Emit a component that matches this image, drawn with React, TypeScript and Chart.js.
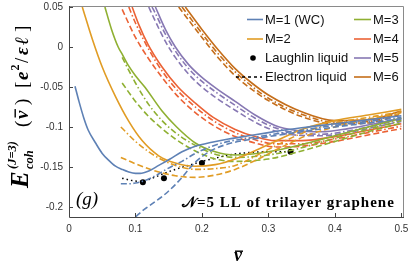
import React, { useEffect, useRef } from "react";
import { Chart, registerables } from "chart.js";
Chart.register(...registerables);

const X_TICKS = [0, 0.1, 0.2, 0.3, 0.4, 0.5];
const Y_TICKS = [-0.2, -0.15, -0.1, -0.05, 0, 0.05];

// M=1 (WC)
const NU_M1_SOLID = [0.009, 0.015, 0.022, 0.029, 0.04, 0.05, 0.059, 0.07, 0.08, 0.089, 0.1, 0.107, 0.12, 0.135, 0.152, 0.17, 0.19, 0.215, 0.24, 0.27, 0.3, 0.35, 0.4, 0.45, 0.5];
const E_M1_SOLID = [-0.049, -0.068, -0.088, -0.104, -0.12, -0.133, -0.141, -0.149, -0.153, -0.156, -0.158, -0.158, -0.155, -0.148, -0.14, -0.131, -0.124, -0.119, -0.115, -0.111, -0.107, -0.101, -0.096, -0.091, -0.086];
const NU_M1_DASHDOT = [0.078, 0.09, 0.1, 0.11, 0.12, 0.13, 0.14, 0.155, 0.17, 0.19, 0.215, 0.24, 0.27, 0.3, 0.35, 0.4, 0.45, 0.5];
const E_M1_DASHDOT = [-0.171, -0.171, -0.17, -0.168, -0.165, -0.161, -0.156, -0.149, -0.143, -0.133, -0.124, -0.118, -0.114, -0.11, -0.104, -0.098, -0.093, -0.088];
const NU_M1_DASHED = [0.09, 0.1, 0.11, 0.12, 0.13, 0.14, 0.15, 0.16, 0.17, 0.18, 0.19, 0.2, 0.215, 0.24, 0.27, 0.3, 0.35, 0.4, 0.45, 0.5];
const E_M1_DASHED = [-0.219, -0.2125, -0.205, -0.199, -0.193, -0.187, -0.18, -0.172, -0.163, -0.153, -0.144, -0.137, -0.129, -0.121, -0.116, -0.112, -0.106, -0.1, -0.095, -0.09];

// M=2
const NU_M2_SOLID = [0.02, 0.035, 0.05, 0.07, 0.09, 0.11, 0.135, 0.16, 0.19, 0.22, 0.25, 0.3, 0.35, 0.4, 0.45, 0.5];
const E_M2_SOLID = [0.05, 0.01, -0.025, -0.062, -0.093, -0.117, -0.136, -0.145, -0.149, -0.147, -0.14, -0.122, -0.103, -0.092, -0.085, -0.078];
const NU_M2_DASHDOT = [0.078, 0.1, 0.12, 0.14, 0.16, 0.19, 0.22, 0.25, 0.3, 0.35, 0.4, 0.45, 0.5];
const E_M2_DASHDOT = [-0.1, -0.118, -0.131, -0.141, -0.148, -0.153, -0.152, -0.148, -0.128, -0.108, -0.095, -0.088, -0.081];
const NU_M2_DASHED = [0.078, 0.1, 0.13, 0.16, 0.19, 0.22, 0.25, 0.28, 0.32, 0.36, 0.4, 0.45, 0.5];
const E_M2_DASHED = [-0.138, -0.146, -0.155, -0.161, -0.163, -0.16, -0.153, -0.142, -0.125, -0.11, -0.1, -0.09, -0.083];

// M=3
const NU_M3_SOLID = [0.054, 0.064, 0.074, 0.08, 0.09, 0.1, 0.114, 0.14, 0.162, 0.19, 0.22, 0.25, 0.3, 0.35, 0.4, 0.45, 0.5];
const E_M3_SOLID = [0.05, 0.022, 0, -0.009, -0.024, -0.036, -0.05, -0.08, -0.1, -0.12, -0.131, -0.135, -0.131, -0.122, -0.111, -0.1, -0.089];
const NU_M3_DASHDOT = [0.08, 0.1, 0.12, 0.14, 0.16, 0.19, 0.22, 0.25, 0.3, 0.35, 0.4, 0.45, 0.5];
const E_M3_DASHDOT = [-0.013, -0.045, -0.072, -0.092, -0.107, -0.123, -0.134, -0.138, -0.135, -0.126, -0.114, -0.103, -0.092];
const NU_M3_DASHED = [0.08, 0.1, 0.12, 0.14, 0.16, 0.19, 0.22, 0.25, 0.3, 0.35, 0.4, 0.45, 0.5];
const E_M3_DASHED = [-0.045, -0.068, -0.087, -0.102, -0.115, -0.13, -0.14, -0.143, -0.14, -0.13, -0.118, -0.106, -0.095];

// M=4
const NU_M4_SOLID = [0.095, 0.105, 0.119, 0.14, 0.164, 0.19, 0.217, 0.25, 0.28, 0.31, 0.35, 0.4, 0.45, 0.5];
const E_M4_SOLID = [0.05, 0.028, 0.003, -0.025, -0.05, -0.07, -0.088, -0.103, -0.112, -0.117, -0.117, -0.112, -0.104, -0.096];
const NU_M4_DASHDOT = [0.09, 0.1, 0.12, 0.14, 0.164, 0.19, 0.217, 0.25, 0.28, 0.31, 0.35, 0.4, 0.45, 0.5];
const E_M4_DASHDOT = [0.05, 0.03, -0.003, -0.03, -0.055, -0.075, -0.092, -0.107, -0.116, -0.121, -0.121, -0.115, -0.107, -0.099];
const NU_M4_DASHED = [0.08, 0.1, 0.12, 0.14, 0.164, 0.19, 0.217, 0.25, 0.28, 0.31, 0.35, 0.4, 0.45, 0.5];
const E_M4_DASHED = [0.047, 0.012, -0.015, -0.038, -0.062, -0.082, -0.098, -0.112, -0.12, -0.125, -0.124, -0.118, -0.11, -0.102];

// M=5
const NU_M5_SOLID = [0.13, 0.145, 0.16, 0.18, 0.2, 0.222, 0.25, 0.28, 0.31, 0.34, 0.38, 0.42, 0.46, 0.5];
const E_M5_SOLID = [0.05, 0.022, 0, -0.022, -0.038, -0.052, -0.068, -0.085, -0.098, -0.104, -0.106, -0.102, -0.096, -0.089];
const NU_M5_DASHDOT = [0.125, 0.13, 0.145, 0.16, 0.18, 0.2, 0.222, 0.25, 0.28, 0.31, 0.34, 0.38, 0.42, 0.46, 0.5];
const E_M5_DASHDOT = [0.05, 0.042, 0.016, -0.005, -0.027, -0.043, -0.057, -0.073, -0.089, -0.101, -0.107, -0.109, -0.105, -0.098, -0.091];
const NU_M5_DASHED = [0.12, 0.13, 0.145, 0.16, 0.18, 0.2, 0.222, 0.25, 0.28, 0.31, 0.34, 0.38, 0.42, 0.46, 0.5];
const E_M5_DASHED = [0.05, 0.032, 0.007, -0.013, -0.034, -0.05, -0.064, -0.079, -0.094, -0.105, -0.11, -0.111, -0.107, -0.1, -0.093];

// M=6
const NU_M6_SOLID = [0.175, 0.2, 0.225, 0.25, 0.275, 0.3, 0.35, 0.4, 0.45, 0.5];
const E_M6_SOLID = [0.05, 0.022, -0.004, -0.027, -0.045, -0.06, -0.081, -0.092, -0.091, -0.08];
const NU_M6_DASHDOT = [0.17, 0.2, 0.225, 0.25, 0.275, 0.3, 0.35, 0.4, 0.45, 0.5];
const E_M6_DASHDOT = [0.05, 0.017, -0.009, -0.031, -0.049, -0.064, -0.084, -0.094, -0.093, -0.082];
const NU_M6_DASHED = [0.165, 0.2, 0.225, 0.25, 0.275, 0.3, 0.35, 0.4, 0.45, 0.5];
const E_M6_DASHED = [0.05, 0.012, -0.014, -0.036, -0.053, -0.067, -0.087, -0.096, -0.095, -0.084];

// Liquids
const NU_LAUGHLIN = [1 / 9, 1 / 7, 1 / 5, 1 / 3];
const E_LAUGHLIN = [-0.169, -0.164, -0.145, -0.131];
const NU_ELECTRON = [0.08, 0.095, 0.111, 0.125, 0.14, 0.16, 0.18, 0.2, 0.22, 0.24, 0.27, 0.3, 0.335];
const E_ELECTRON = [-0.164, -0.167, -0.168, -0.164, -0.159, -0.153, -0.148, -0.143, -0.139, -0.135, -0.132, -0.131, -0.131];

const COLORS = {
  m1: "#5E81B5",
  m2: "#E19C24",
  m3: "#8FB032",
  m4: "#EB6235",
  m5: "#8778B3",
  m6: "#C56E1A",
};
const DASHED = [6, 3];
const DASHDOT = [6, 2.5, 1.5, 2.5];

const pts = (nu: number[], e: number[]) => nu.map((x, i) => ({ x, y: e[i] }));

function lineDs(nu: number[], e: number[], color: string, dash: number[]) {
  return {
    type: "line" as const,
    data: pts(nu, e),
    borderColor: color,
    backgroundColor: color,
    borderWidth: 1.6,
    borderDash: dash,
    pointRadius: 0,
    fill: false,
    cubicInterpolationMode: "monotone" as const,
  };
}

const SERIF = "'Liberation Serif', 'DejaVu Serif', serif";
const SANS = "'Liberation Sans', Arial, sans-serif";

const decorPlugin = {
  id: "decor",
  afterDraw(chart: any) {
    const ctx = chart.ctx as CanvasRenderingContext2D;
    const { left, right, top, bottom } = chart.chartArea;
    const xs = chart.scales.x;
    const ys = chart.scales.y;
    ctx.save();
    // frame
    ctx.lineWidth = 1;
    ctx.strokeStyle = "#8a8a8a";
    ctx.beginPath();
    ctx.moveTo(left, top + 0.5);
    ctx.lineTo(right + 0.5, top + 0.5);
    ctx.lineTo(right + 0.5, bottom);
    ctx.stroke();
    ctx.strokeStyle = "#444";
    ctx.beginPath();
    ctx.moveTo(left + 0.5, top);
    ctx.lineTo(left + 0.5, bottom + 0.5);
    ctx.lineTo(right + 1, bottom + 0.5);
    ctx.stroke();
    // inside ticks
    ctx.strokeStyle = "#444";
    ctx.beginPath();
    for (const v of X_TICKS) {
      const px = Math.round(xs.getPixelForValue(v)) + 0.5;
      ctx.moveTo(px, bottom);
      ctx.lineTo(px, bottom - 4);
    }
    for (const v of Y_TICKS) {
      const py = Math.round(ys.getPixelForValue(v)) + 0.5;
      ctx.moveTo(left, py);
      ctx.lineTo(left + 4, py);
    }
    ctx.stroke();

    ctx.fillStyle = "#000";
    ctx.textBaseline = "alphabetic";
    ctx.textAlign = "left";
    // (g)
    ctx.font = `italic 19px ${SERIF}`;
    ctx.fillText("(g)", 76, 205);
    // N=5 label
    ctx.font = `bold 15px ${SERIF}`;
    (ctx as any).letterSpacing = "1px";
    ctx.fillText("\u{1D4A9}=5 LL of trilayer graphene", 182, 207);
    (ctx as any).letterSpacing = "0px";

    // x title
    ctx.font = `bold italic 18px ${SERIF}`;
    const nw = ctx.measureText("ν").width;
    const nx = 238 - nw / 2;
    ctx.fillText("ν", nx, 261);
    ctx.fillRect(nx + 1, 250.5, nw, 1.4);

    // y title (rotated)
    ctx.save();
    ctx.translate(28, 188);
    ctx.rotate(-Math.PI / 2);
    ctx.font = `bold italic 25px ${SERIF}`;
    ctx.fillText("E", 0, 0);
    ctx.font = `bold italic 12.5px ${SERIF}`;
    ctx.fillText("(J=3)", 19, -12);
    ctx.fillText("coh", 19, 5);
    ctx.font = `19px ${SERIF}`;
    ctx.fillText("(", 61, 0);
    ctx.font = `bold italic 19px ${SERIF}`;
    const vw = ctx.measureText("ν").width;
    ctx.fillText("ν", 69, 0);
    ctx.fillRect(70.5, -13.5, vw, 1.4);
    ctx.font = `19px ${SERIF}`;
    ctx.fillText(")", 83, 0);
    ctx.fillText("[", 100, 0);
    ctx.font = `bold italic 19px ${SERIF}`;
    ctx.fillText("e", 108, 0);
    ctx.font = `bold 12px ${SERIF}`;
    ctx.fillText("2", 117.5, -9);
    ctx.font = `19px ${SERIF}`;
    ctx.fillText("/", 125, 0);
    ctx.font = `bold italic 19px ${SERIF}`;
    ctx.fillText("ε", 133, 0);
    ctx.fillText("ℓ", 143, 0);
    ctx.font = `19px ${SERIF}`;
    ctx.fillText("]", 156, 0);
    ctx.restore();

    // legend
    ctx.font = `13px ${SANS}`;
    ctx.textBaseline = "middle";
    const rows = [19.5, 39, 58, 77];
    const col1 = [
      { label: "M=1 (WC)", kind: "line", color: COLORS.m1 },
      { label: "M=2", kind: "line", color: COLORS.m2 },
      { label: "Laughlin liquid", kind: "dot", color: "#000" },
      { label: "Electron liquid", kind: "dotted", color: "#000" },
    ];
    const col2 = [
      { label: "M=3", color: COLORS.m3 },
      { label: "M=4", color: COLORS.m4 },
      { label: "M=5", color: COLORS.m5 },
      { label: "M=6", color: COLORS.m6 },
    ];
    col1.forEach((it, i) => {
      const y = rows[i];
      ctx.strokeStyle = it.color;
      ctx.fillStyle = it.color;
      ctx.lineWidth = 1.6;
      if (it.kind === "line") {
        ctx.setLineDash([]);
        ctx.beginPath();
        ctx.moveTo(247, y);
        ctx.lineTo(263, y);
        ctx.stroke();
      } else if (it.kind === "dot") {
        ctx.beginPath();
        ctx.arc(253, y, 2.8, 0, Math.PI * 2);
        ctx.fill();
      } else {
        ctx.setLineDash([3, 3]);
        ctx.beginPath();
        ctx.moveTo(236, y);
        ctx.lineTo(262, y);
        ctx.stroke();
        ctx.setLineDash([]);
      }
      ctx.fillStyle = "#111";
      ctx.fillText(it.label, 265, y + 0.5);
    });
    col2.forEach((it, i) => {
      const y = rows[i];
      ctx.strokeStyle = it.color;
      ctx.lineWidth = 1.6;
      ctx.beginPath();
      ctx.moveTo(354, y);
      ctx.lineTo(371, y);
      ctx.stroke();
      ctx.fillStyle = "#111";
      ctx.fillText(it.label, 373, y + 0.5);
    });
    ctx.restore();
  },
};

export default function App() {
  const ref = useRef<HTMLCanvasElement | null>(null);
  useEffect(() => {
    document.body.style.margin = "0";
    const canvas = ref.current!;
    const datasets: any[] = [
      lineDs(NU_M1_SOLID, E_M1_SOLID, COLORS.m1, []),
      lineDs(NU_M1_DASHDOT, E_M1_DASHDOT, COLORS.m1, DASHDOT),
      lineDs(NU_M1_DASHED, E_M1_DASHED, COLORS.m1, DASHED),
      lineDs(NU_M2_SOLID, E_M2_SOLID, COLORS.m2, []),
      lineDs(NU_M2_DASHDOT, E_M2_DASHDOT, COLORS.m2, DASHDOT),
      lineDs(NU_M2_DASHED, E_M2_DASHED, COLORS.m2, DASHED),
      lineDs(NU_M3_SOLID, E_M3_SOLID, COLORS.m3, []),
      lineDs(NU_M3_DASHDOT, E_M3_DASHDOT, COLORS.m3, DASHDOT),
      lineDs(NU_M3_DASHED, E_M3_DASHED, COLORS.m3, DASHED),
      lineDs(NU_M4_SOLID, E_M4_SOLID, COLORS.m4, []),
      lineDs(NU_M4_DASHDOT, E_M4_DASHDOT, COLORS.m4, DASHDOT),
      lineDs(NU_M4_DASHED, E_M4_DASHED, COLORS.m4, DASHED),
      lineDs(NU_M5_SOLID, E_M5_SOLID, COLORS.m5, []),
      lineDs(NU_M5_DASHDOT, E_M5_DASHDOT, COLORS.m5, DASHDOT),
      lineDs(NU_M5_DASHED, E_M5_DASHED, COLORS.m5, DASHED),
      lineDs(NU_M6_SOLID, E_M6_SOLID, COLORS.m6, []),
      lineDs(NU_M6_DASHDOT, E_M6_DASHDOT, COLORS.m6, DASHDOT),
      lineDs(NU_M6_DASHED, E_M6_DASHED, COLORS.m6, DASHED),
      {
        ...lineDs(NU_ELECTRON, E_ELECTRON, "#000", [1.5, 3]),
        borderWidth: 1.5,
      },
      {
        type: "line",
        data: pts(NU_LAUGHLIN, E_LAUGHLIN),
        showLine: false,
        pointRadius: 3,
        pointBackgroundColor: "#000",
        pointBorderWidth: 0,
        borderColor: "#000",
      },
    ];
    const chart = new Chart(canvas, {
      type: "line",
      data: { datasets },
      options: {
        animation: false,
        responsive: false,
        devicePixelRatio: 1,
        layout: { padding: { top: 6, right: 8, left: 0, bottom: 0 } },
        plugins: { legend: { display: false }, tooltip: { enabled: false } },
        scales: {
          x: {
            type: "linear",
            min: 0,
            max: 0.5025,
            afterBuildTicks: (s: any) => {
              s.ticks = X_TICKS.map((v) => ({ value: v }));
            },
            afterFit: (s: any) => {
              s.height = 53;
              s.paddingLeft = 0;
              s.paddingRight = 0;
            },
            ticks: {
              callback: (v: any) => String(v),
              font: { family: "'Liberation Sans', Arial, sans-serif", size: 10 },
              color: "#333",
              padding: 6,
              maxRotation: 0,
            },
            grid: { display: false, drawTicks: false },
            border: { display: false },
          },
          y: {
            type: "linear",
            min: -0.2125,
            max: 0.05125,
            afterBuildTicks: (s: any) => {
              s.ticks = Y_TICKS.map((v) => ({ value: v }));
            },
            afterFit: (s: any) => {
              s.width = 69;
              s.paddingTop = 0;
              s.paddingBottom = 0;
            },
            ticks: {
              callback: (v: any) => String(v),
              font: { family: "'Liberation Sans', Arial, sans-serif", size: 10 },
              color: "#333",
              padding: 6,
            },
            grid: { display: false, drawTicks: false },
            border: { display: false },
          },
        },
      },
      plugins: [decorPlugin],
    } as any);
    return () => chart.destroy();
  }, []);
  return (
    <div style={{ width: 411, height: 270, background: "#fff" }}>
      <canvas ref={ref} width={411} height={270} style={{ display: "block" }} />
    </div>
  );
}
